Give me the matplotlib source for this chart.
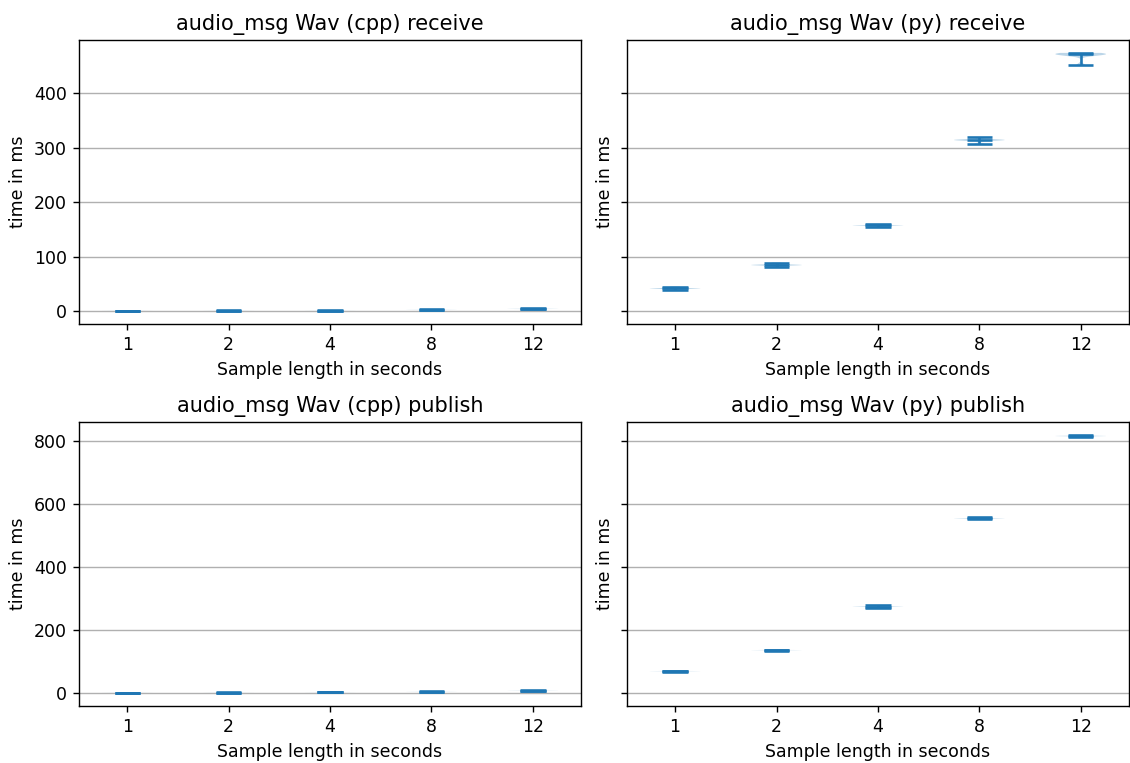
import matplotlib
matplotlib.use("Agg")
import matplotlib.pyplot as plt
import numpy as np

# sample lengths in seconds
lengths = ["1", "2", "4", "8", "12"]

# measured times in ms (runs per sample length, most runs cluster tightly)
cpp_receive = [
    [0.6, 0.95, 1.0, 1.0, 1.0, 1.05, 1.4],
    [0.9, 1.25, 1.3, 1.3, 1.3, 1.35, 1.7],
    [1.0, 1.35, 1.4, 1.4, 1.4, 1.45, 1.9],
    [2.0, 2.65, 2.7, 2.7, 2.7, 2.75, 3.6],
    [3.6, 4.55, 4.6, 4.6, 4.6, 4.65, 5.6],
]
py_receive = [
    [38.5, 41.9, 42.0, 42.0, 42.0, 42.1, 45.5],
    [80.5, 84.9, 85.0, 85.0, 85.0, 85.1, 89.5],
    [154.5, 157.4, 157.5, 157.5, 157.5, 157.6, 160.0],
    [307.0, 313.9, 314.0, 314.0, 314.0, 314.1, 319.5],
    [451.0, 470.9, 471.0, 471.0, 471.0, 471.1, 473.5],
]
cpp_publish = [
    [0.5, 1.05, 1.1, 1.1, 1.1, 1.15, 1.9],
    [1.3, 1.85, 1.9, 1.9, 1.9, 1.95, 2.7],
    [2.6, 3.25, 3.3, 3.3, 3.3, 3.35, 4.2],
    [4.5, 5.35, 5.4, 5.4, 5.4, 5.45, 6.5],
    [6.6, 7.75, 7.8, 7.8, 7.8, 7.85, 9.2],
]
py_publish = [
    [68.5, 70.1, 70.2, 70.2, 70.2, 70.3, 72.0],
    [135.0, 136.7, 136.8, 136.8, 136.8, 136.9, 138.5],
    [271.5, 274.9, 275.0, 275.0, 275.0, 275.1, 278.5],
    [551.0, 554.4, 554.5, 554.5, 554.5, 554.6, 558.0],
    [812.0, 815.4, 815.5, 815.5, 815.5, 815.6, 819.0],
]

fig, axes = plt.subplots(2, 2, figsize=(9.04, 6.104), dpi=125, sharey="row")
fig.subplots_adjust(left=0.07, right=0.999, top=0.9476, bottom=0.0747,
                    wspace=0.0915, hspace=0.345)

panels = [
    (axes[0, 0], cpp_receive, "audio_msg Wav (cpp) receive"),
    (axes[0, 1], py_receive, "audio_msg Wav (py) receive"),
    (axes[1, 0], cpp_publish, "audio_msg Wav (cpp) publish"),
    (axes[1, 1], py_publish, "audio_msg Wav (py) publish"),
]

for ax, data, title in panels:
    ax.violinplot(data, positions=[1, 2, 3, 4, 5], showmedians=True,
                  bw_method=0.4, points=400)
    ax.set_title(title)
    ax.set_xticks([1, 2, 3, 4, 5])
    ax.set_xticklabels(lengths)
    ax.set_xlabel("Sample length in seconds")
    ax.set_ylabel("time in ms")
    ax.yaxis.grid(True)

axes[0, 0].set_yticks([0, 100, 200, 300, 400])
axes[1, 0].set_yticks([0, 200, 400, 600, 800])

fig.savefig("out.png")
